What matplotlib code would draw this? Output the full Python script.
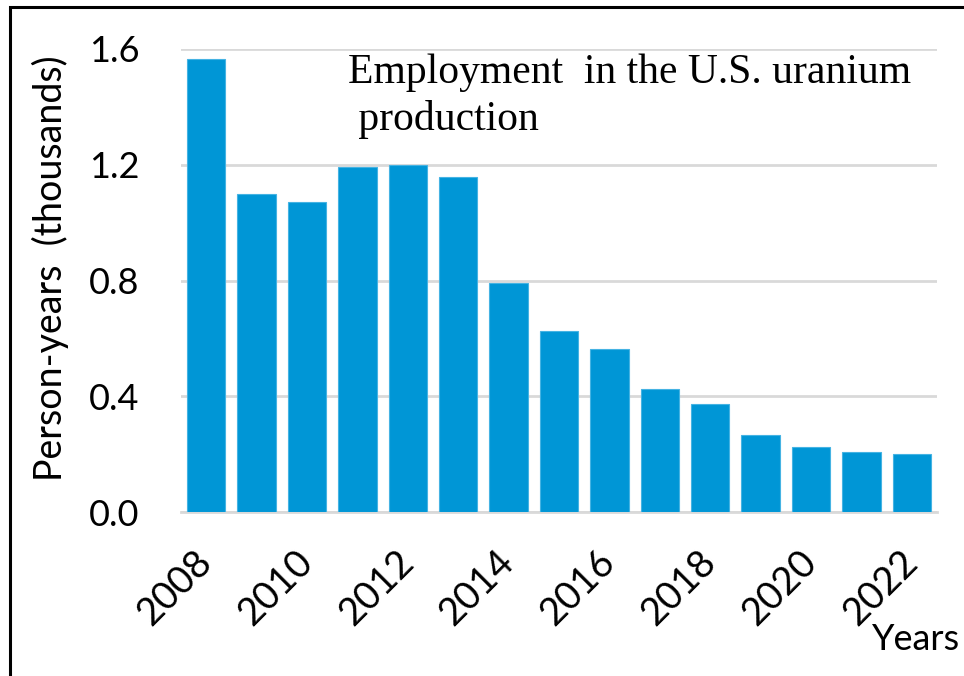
import matplotlib
matplotlib.use("Agg")
import matplotlib.pyplot as plt
from matplotlib.patches import Rectangle

# uranium production employment, thousand person-years
years = list(range(2008, 2023))
person_years = [1.565, 1.10, 1.072, 1.193, 1.198, 1.158, 0.79, 0.625,
                0.563, 0.426, 0.372, 0.266, 0.226, 0.208, 0.199]
yticks = [0.0, 0.4, 0.8, 1.2, 1.6]
year_labels = [str(y) if y % 2 == 0 else "" for y in years]

sans = ["Lato", "DejaVu Sans"]
serif = ["Liberation Serif", "DejaVu Serif"]

fig = plt.figure(figsize=(9.64, 6.76), dpi=100)
ax = fig.add_axes([181 / 964, 1 - 512 / 676, 756 / 964, 463 / 676])

pos = list(range(len(years)))
ax.bar(pos, person_years, width=0.76, color="#0096d6",
       edgecolor="#45b3e3", linewidth=0.8, zorder=3)

ax.set_xlim(-0.5, len(years) - 0.5)
ax.set_ylim(0, 1.6)
ax.set_yticks(yticks)
ax.set_yticklabels([f"{t:.1f}" for t in yticks], family=sans, fontsize=26)
ax.set_xticks(pos)
ax.set_xticklabels(year_labels, family=sans, fontsize=27.5, rotation=45,
                   ha="right", va="center", rotation_mode="anchor")
ax.tick_params(axis="both", length=0)
ax.tick_params(axis="y", pad=30)
ax.tick_params(axis="x", pad=32)

ax.grid(axis="y", color="#d9d9d9", linewidth=2, zorder=0)
for s in ["top", "right", "left"]:
    ax.spines[s].set_visible(False)
ax.spines["bottom"].set_color("#d9d9d9")
ax.spines["bottom"].set_linewidth(2)

fig.text(50 / 964, 1 - 268 / 676, "Person-years  (thousands)", rotation=90,
         ha="center", va="center", family=sans, fontsize=27)
fig.text(960 / 964, 1 - 650 / 676, "Years", ha="right", va="baseline",
         family=sans, fontsize=26)

fig.text(348 / 964, 1 - 83 / 676, "Employment  in the U.S. uranium",
         ha="left", va="baseline", family=serif, fontsize=30)
fig.text(348 / 964, 1 - 130 / 676, " production",
         ha="left", va="baseline", family=serif, fontsize=30)

# frame around the figure
fig.patches.append(Rectangle((10 / 964, -0.2), 1.2, 1.2 - 7 / 676,
                             transform=fig.transFigure, fill=False,
                             edgecolor="black", linewidth=2.2))

fig.savefig("out.png", dpi=100)
